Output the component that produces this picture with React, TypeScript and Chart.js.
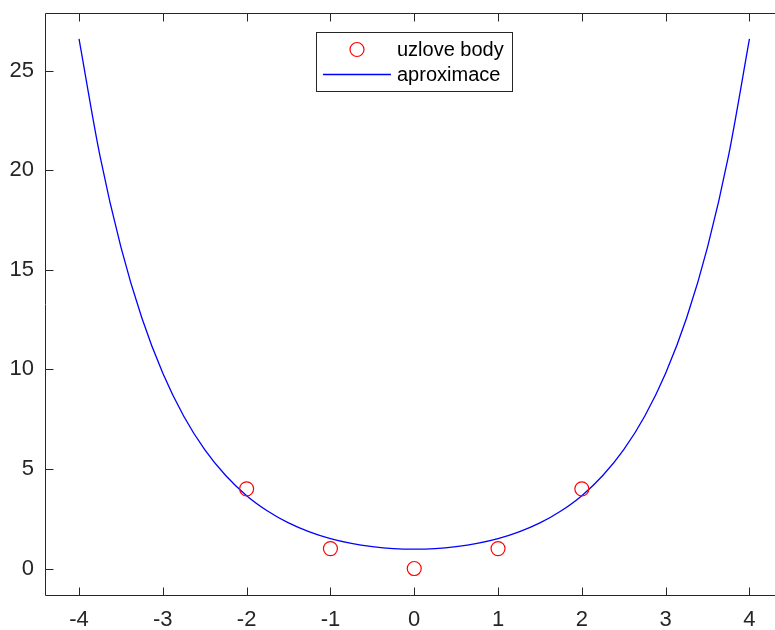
import React, { useEffect, useRef } from "react";
import { Chart, registerables } from "chart.js";

Chart.register(...registerables);

const xTicks = [-4, -3, -2, -1, 0, 1, 2, 3, 4];
const yTicks = [0, 5, 10, 15, 20, 25];

const nodeX = [-2, -1, 0, 1, 2];
const nodeY = [4, 1, 0, 1, 4];

const curveX = [
  -4, -3.75, -3.5, -3.25, -3, -2.75, -2.5, -2.25, -2, -1.75, -1.5, -1.25, -1, -0.75, -0.5, -0.25,
  0, 0.25, 0.5, 0.75, 1, 1.25, 1.5, 1.75, 2, 2.25, 2.5, 2.75, 3, 3.25, 3.5, 3.75, 4,
];
const curveY = [
  26.6, 20.72, 16.14, 12.58, 9.81, 7.65, 5.97, 4.67, 3.66, 2.89, 2.29, 1.84, 1.5, 1.26, 1.1, 1.0,
  0.97, 1.0, 1.1, 1.26, 1.5, 1.84, 2.29, 2.89, 3.66, 4.67, 5.97, 7.65, 9.81, 12.58, 16.14, 20.72, 26.6,
];

const seriesLabels = ["uzlove body", "aproximace"];

const X_MIN = -4.406;
const X_MAX = 4.305;
const Y_MIN = -1.33;
const Y_MAX = 27.9;

const zeroPad = (scale: any) => {
  scale.paddingLeft = 0;
  scale.paddingRight = 0;
  scale.paddingTop = 0;
  scale.paddingBottom = 0;
};

export default function App() {
  const ref = useRef<HTMLCanvasElement>(null);

  useEffect(() => {
    document.body.style.margin = "0";
    const axisColor = "#262626";
    const fontFamily = "'Liberation Sans', Arial, Helvetica, sans-serif";
    const red = "rgb(255,0,0)";
    const blue = "rgb(0,0,255)";

    const framePlugin = {
      id: "matlabFrame",
      afterDraw(chart: any) {
        const ctx = chart.ctx as CanvasRenderingContext2D;
        const { left, right, top, bottom } = chart.chartArea;
        const xs = chart.scales.x;
        const ys = chart.scales.y;
        ctx.save();
        ctx.strokeStyle = axisColor;
        ctx.lineWidth = 1;
        ctx.beginPath();
        ctx.moveTo(left + 0.5, top + 0.5);
        ctx.lineTo(right + 1, top + 0.5);
        ctx.moveTo(left + 0.5, top + 0.5);
        ctx.lineTo(left + 0.5, bottom + 0.5);
        ctx.lineTo(right + 1, bottom + 0.5);
        xTicks.forEach((v) => {
          const px = Math.round(xs.getPixelForValue(v)) + 0.5;
          ctx.moveTo(px, bottom + 0.5);
          ctx.lineTo(px, bottom - 7.5);
          ctx.moveTo(px, top + 0.5);
          ctx.lineTo(px, top + 8.5);
        });
        yTicks.forEach((v) => {
          const py = Math.round(ys.getPixelForValue(v)) + 0.5;
          ctx.moveTo(left + 0.5, py);
          ctx.lineTo(left + 8.5, py);
        });
        ctx.stroke();

        // legend
        const bx = 316.5, by = 32.5, bw = 196, bh = 59;
        ctx.fillStyle = "#ffffff";
        ctx.fillRect(bx, by, bw, bh);
        ctx.strokeStyle = axisColor;
        ctx.lineWidth = 1;
        ctx.strokeRect(bx, by, bw, bh);

        const ds0 = chart.data.datasets[0];
        const ds1 = chart.data.datasets[1];
        ctx.beginPath();
        ctx.strokeStyle = ds0.borderColor;
        ctx.lineWidth = ds0.borderWidth;
        ctx.arc(357, 49.5, 7, 0, Math.PI * 2);
        ctx.stroke();

        ctx.beginPath();
        ctx.strokeStyle = ds1.borderColor;
        ctx.lineWidth = ds1.borderWidth;
        ctx.moveTo(323, 74.5);
        ctx.lineTo(391, 74.5);
        ctx.stroke();

        ctx.fillStyle = "#000000";
        ctx.font = `20px ${fontFamily}`;
        ctx.textBaseline = "middle";
        ctx.textAlign = "left";
        ctx.fillText(ds0.label, 397, 50);
        ctx.fillText(ds1.label, 397, 75);
        ctx.restore();
      },
    };

    const chart = new Chart(ref.current as HTMLCanvasElement, {
      type: "scatter",
      data: {
        datasets: [
          {
            label: seriesLabels[0],
            data: nodeX.map((x, i) => ({ x, y: nodeY[i] })),
            showLine: false,
            pointStyle: "circle",
            pointRadius: 7,
            pointBorderWidth: 1.2,
            pointBackgroundColor: "rgba(0,0,0,0)",
            pointBorderColor: red,
            borderColor: red,
            borderWidth: 1.2,
            order: 0,
          },
          {
            label: seriesLabels[1],
            data: curveX.map((x, i) => ({ x, y: curveY[i] })),
            showLine: true,
            pointRadius: 0,
            borderColor: blue,
            borderWidth: 1.3,
            cubicInterpolationMode: "monotone",
            fill: false,
            order: 1,
          },
        ],
      },
      options: {
        animation: false,
        responsive: false,
        maintainAspectRatio: false,
        events: [],
        layout: { padding: 0, autoPadding: false },
        plugins: {
          legend: { display: false },
          tooltip: { enabled: false },
          title: { display: false },
        },
        scales: {
          x: {
            type: "linear",
            position: "bottom",
            min: X_MIN,
            max: X_MAX,
            afterBuildTicks: (scale: any) => {
              scale.ticks = xTicks.map((v) => ({ value: v }));
            },
            afterFit: (scale: any) => {
              scale.height = 35;
              zeroPad(scale);
            },
            grid: { display: false, drawTicks: false },
            border: { display: false },
            ticks: {
              color: axisColor,
              padding: 12,
              maxRotation: 0,
              autoSkip: false,
              font: { family: fontFamily, size: 22 },
              callback: (v: any) => String(v),
            },
          },
          x2: {
            type: "linear",
            position: "top",
            min: X_MIN,
            max: X_MAX,
            afterFit: (scale: any) => {
              scale.height = 13;
              zeroPad(scale);
            },
            grid: { display: false, drawTicks: false },
            border: { display: false },
            ticks: { display: false },
          },
          y: {
            type: "linear",
            position: "left",
            min: Y_MIN,
            max: Y_MAX,
            afterBuildTicks: (scale: any) => {
              scale.ticks = yTicks.map((v) => ({ value: v }));
            },
            afterFit: (scale: any) => {
              scale.width = 45;
              zeroPad(scale);
            },
            grid: { display: false, drawTicks: false },
            border: { display: false },
            ticks: {
              color: axisColor,
              padding: 11,
              autoSkip: false,
              font: { family: fontFamily, size: 22 },
              callback: (v: any) => String(v),
            },
          },
        },
      },
      plugins: [framePlugin],
    } as any);

    return () => {
      chart.destroy();
    };
  }, []);

  return (
    <div style={{ position: "absolute", left: 0, top: 0, width: 775, height: 630, background: "#ffffff" }}>
      <canvas ref={ref} width={775} height={630} style={{ display: "block", width: 775, height: 630 }} />
    </div>
  );
}
